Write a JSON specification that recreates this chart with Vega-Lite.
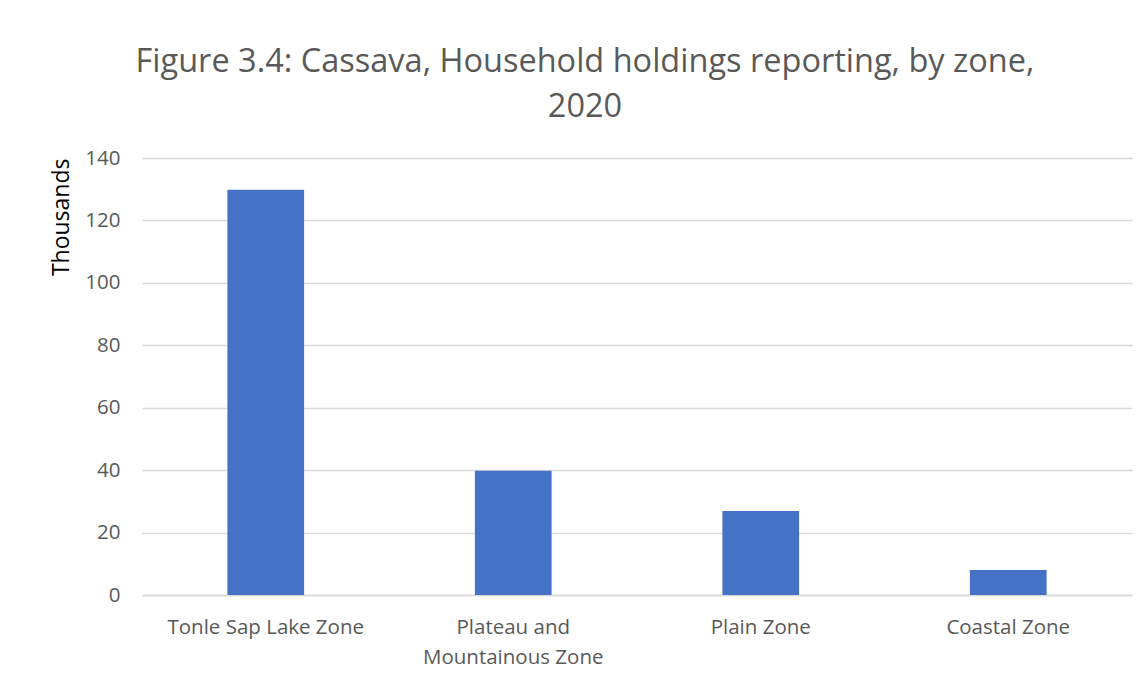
{
  "$schema": "https://vega.github.io/schema/vega-lite/v6.json",
  "autosize": "none",
  "width": 990,
  "height": 437,
  "padding": {"left": 142, "top": 158, "right": 14, "bottom": 83},
  "background": "white",
  "title": {
    "text": ["Figure 3.4: Cassava, Household holdings reporting, by zone,", "2020"],
    "font": "Open Sans",
    "fontSize": 32.5,
    "fontWeight": "normal",
    "color": "#595959",
    "lineHeight": 45,
    "anchor": "middle",
    "dx": -52,
    "offset": 25
  },
  "data": {
    "values": [
      {"zone": "Tonle Sap Lake Zone", "value": 129.8},
      {"zone": "Plateau and Mountainous Zone", "value": 39.8},
      {"zone": "Plain Zone", "value": 26.9},
      {"zone": "Coastal Zone", "value": 8.0}
    ]
  },
  "mark": {"type": "bar", "color": "#4472C4"},
  "encoding": {
    "x": {
      "field": "zone",
      "type": "nominal",
      "sort": null,
      "scale": {"paddingInner": 0.69, "paddingOuter": 0.345},
      "axis": {
        "title": null,
        "labelAngle": 0,
        "labelFont": "Open Sans",
        "labelFontSize": 20.5,
        "labelColor": "#595959",
        "labelPadding": 22,
        "labelLineHeight": 30,
        "labelBaseline": "top",
        "labelLimit": 0,
        "ticks": false,
        "domainColor": "#d9d9d9",
        "domainWidth": 1.5,
        "labelExpr": "datum.value == 'Plateau and Mountainous Zone' ? ['Plateau and', 'Mountainous Zone'] : datum.value"
      }
    },
    "y": {
      "field": "value",
      "type": "quantitative",
      "scale": {"domain": [0, 140]},
      "axis": {
        "title": "Thousands",
        "titleFont": "Open Sans",
        "titleFontSize": 23,
        "titleFontWeight": "normal",
        "titleColor": "#000000",
        "titleAnchor": "end",
        "titlePadding": 11,
        "values": [0, 20, 40, 60, 80, 100, 120, 140],
        "labelFont": "Open Sans",
        "labelFontSize": 20.5,
        "labelColor": "#595959",
        "labelPadding": 22,
        "ticks": false,
        "domain": false,
        "gridColor": "#d9d9d9",
        "gridWidth": 1.5
      }
    }
  },
  "config": {
    "view": {"stroke": null}
  }
}
